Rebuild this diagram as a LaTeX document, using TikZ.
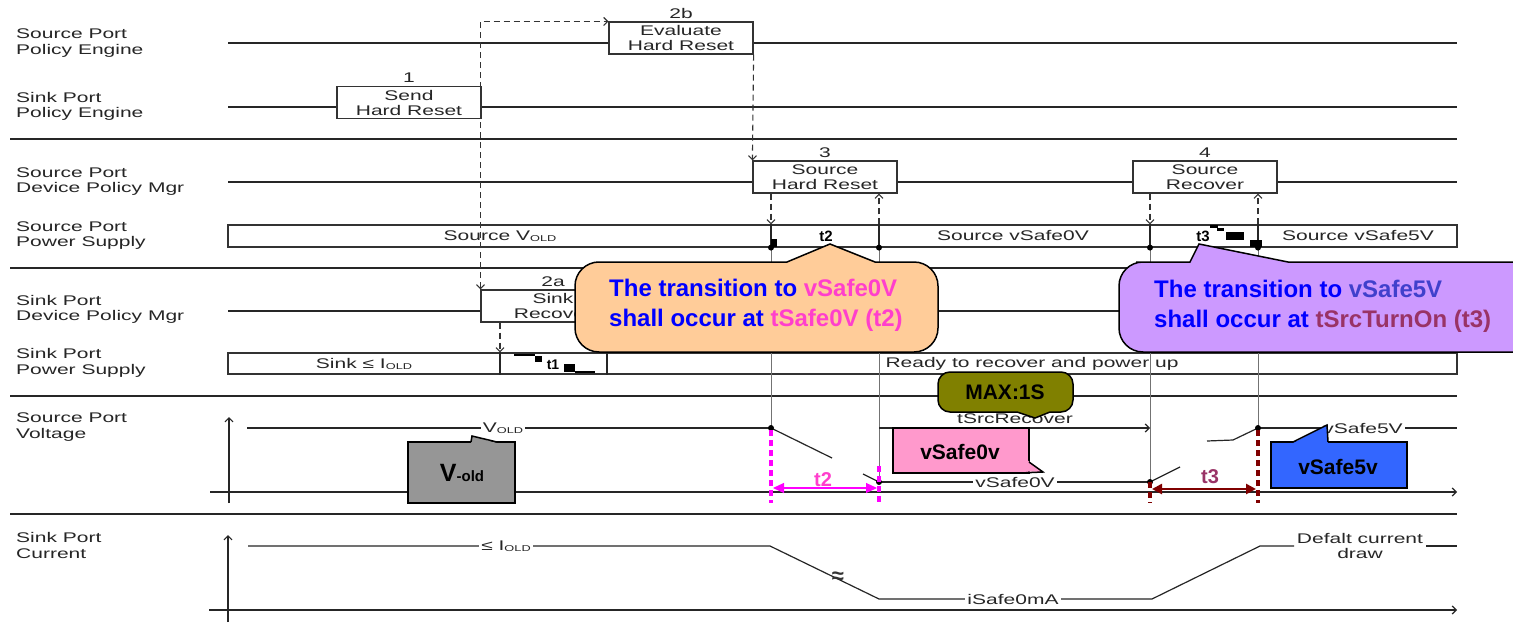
\documentclass[tikz,border=0pt]{standalone}
\usepackage{fontspec}
\setmainfont{Liberation Sans}
\newfontfamily\widefont[FakeStretch=1.5]{Liberation Sans}
\usetikzlibrary{arrows.meta, positioning, calc}
\definecolor{peach}{HTML}{FFCC99}
\definecolor{lilac}{HTML}{CC99FF}
\definecolor{olivebox}{HTML}{808000}
\definecolor{pinkbox}{HTML}{FF99CC}
\definecolor{graybox}{HTML}{969696}
\definecolor{bluebox}{HTML}{3366FF}
\definecolor{hotpink}{HTML}{FF3FCC}
\definecolor{magline}{HTML}{FF00FF}
\definecolor{slateblue}{HTML}{4040CC}
\definecolor{mauve}{HTML}{993366}
\definecolor{darkred}{HTML}{800000}
\newcommand{\lowsub}[1]{\raisebox{-1.5pt}{\fontsize{8.5}{8.5}\selectfont #1}}

\begin{document}
\begin{tikzpicture}[x=1pt, y=-1pt,
  >={Straight Barb[length=4pt,width=8pt]},
  every node/.style={inner sep=0pt},
  lbl/.style={font=\widefont\fontsize{14}{15.5}\selectfont, align=left,
              anchor=west, text=black!85},
  small/.style={font=\widefont\fontsize{14}{15}\selectfont, text=black!85},
  statebox/.style={draw=black!80, fill=white, line width=1.2pt,
                   minimum width=144pt, minimum height=32pt, align=center,
                   font=\widefont\fontsize{14}{15}\selectfont, text=black!85},
  bar/.style={draw=black!80, line width=1.2pt, minimum width=1229pt},
  track/.style={line width=1.2pt, black!85},
  sep/.style={line width=2pt, black!85},
  dashline/.style={dash pattern=on 6pt off 4pt, line width=1.1pt, black!80},
  guide/.style={line width=0.9pt, black!55},
  callout/.style={draw=black, line width=1.5pt},
  bigtext/.style={font=\bfseries\fontsize{24}{30}\selectfont, align=left,
                  anchor=west},
  tagtext/.style={font=\bfseries\fontsize{21}{21}\selectfont}]

  \useasboundingbox (0,0) rectangle (1513,629);
  \fill[white] (0,0) rectangle (1513,629);
  \clip (0,0) rectangle (1513,629);

  %% --- row labels and frame ---
  \foreach \y/\txt [count=\i] in {43/{Source Port\\Policy Engine},
      106.5/{Sink Port\\Policy Engine}, 181.5/{Source Port\\Device Policy Mgr},
      235.5/{Source Port\\Power Supply}, 309.5/{Sink Port\\Device Policy Mgr},
      363/{Sink Port\\Power Supply}, 427/{Source Port\\Voltage},
      545.5/{Sink Port\\Current}}
    \node[lbl] (row\i) at (16,\y) {\txt};
  \foreach \y in {139,268,396,514}
    \draw[sep] (10,\y) -- (1457,\y);
  \foreach \y in {43,107,182,311}
    \draw[track] (228,\y) -- (1457,\y);

  %% --- time marks ---
  \coordinate (sA) at (500,0);
  \coordinate (sB) at (607,0);
  \coordinate (tA) at (771,0);
  \coordinate (tB) at (879,0);
  \coordinate (tC) at (1150,0);
  \coordinate (tD) at (1258,0);

  %% --- state boxes ---
  \node[statebox, label={[small, label distance=3pt]above:1}] (send)
    at (409,102.5) {Send\\Hard Reset};
  \node[statebox, label={[small, label distance=3pt]above:2b}] (evalrst)
    at (681,38) {Evaluate\\Hard Reset};
  \node[statebox, label={[small, label distance=3pt]above:2a}] (sinkrec)
    at (553,306) {Sink\\Recover};
  \node[statebox, label={[small, label distance=3pt]above:3}] (hardrst)
    at (825,177) {Source\\Hard Reset};
  \node[statebox, label={[small, label distance=3pt]above:4}] (recover)
    at (1205,177) {Source\\Recover};

  %% --- power supply bars ---
  \node[bar, minimum height=22pt] (srcps) at (842.5,236) {};
  \node[bar, minimum height=21pt] (sinkps) at (842.5,363.5) {};
  \foreach \t in {tA,tB,tC,tD}
    \draw[track] (srcps.north -| \t) -- (srcps.south -| \t);
  \foreach \t in {sA,sB}
    \draw[track] (sinkps.north -| \t) -- (sinkps.south -| \t);
  \node[small] (psold) at (500,236) {Source V\lowsub{OLD}};
  \node[font=\bfseries\fontsize{15}{15}\selectfont] (pstwo) at (826,236) {t2};
  \node[small] (pszero) at (1013,236) {Source vSafe0V};
  \node[font=\bfseries\fontsize{15}{15}\selectfont] (psthree) at (1203,236) {t3};
  \node[small] (psfive) at (1358,236) {Source vSafe5V};
  \node[small] (skold) at (364,364) {Sink ≤ I\lowsub{OLD}};
  \node[font=\bfseries\fontsize{14}{14}\selectfont] (skone) at (553,365) {t1};
  \node[small] (skready) at (1032,364) {Ready to recover and power up};
  %% stray marks
  \fill (771,239) rectangle (777,247);
  \fill (1210,225) rectangle (1218,228);
  \fill (1217,228) rectangle (1224,231);
  \fill (1226,232) rectangle (1244,240);
  \fill (1250,240) rectangle (1262,247);
  \fill (535,356) rectangle (542,362);
  \draw[line width=1.2pt] (514,355) -- (535,355);
  \fill (564,364) rectangle (575,372);
  \draw[line width=2pt] (575,372) -- (595,372);

  %% --- dashed messages ---
  \draw[dashline, <->] (sinkrec.north west) -- (sinkrec.north west |- evalrst.north west)
    -- (evalrst.north west);
  \draw[dashline, ->] (evalrst.south east) -- (hardrst.north west);
  \draw[dashline, ->] (sinkrec.south -| sA) -- (sinkps.north -| sA);
  \draw[dashline, ->] (hardrst.south -| tA) -- (srcps.north -| tA);
  \draw[dashline, ->] (srcps.north -| tB) -- (hardrst.south -| tB);
  \draw[dashline, ->] (recover.south -| tC) -- (srcps.north -| tC);
  \draw[dashline, ->] (srcps.north -| tD) -- (recover.south -| tD);

  %% --- source port voltage ---
  \coordinate (vA) at (771,428);
  \coordinate (vB) at (879,482);
  \coordinate (vC) at (1150,482);
  \coordinate (vD) at (1258,428);
  \draw[guide] (srcps.south -| tA) -- (vA);
  \draw[guide] (srcps.south -| tB) -- (vB);
  \draw[guide] (srcps.south -| tC) -- (vC);
  \draw[guide] (srcps.south -| tD) -- (vD);
  \draw[track, ->] (229,503) -- (229,417);
  \draw[track, ->] (210,492) -- (1457,492);
  \draw[track] (247,428) -- (vA);
  \draw[track] (vA) -- (832,458);
  \draw[track] (863,474) -- (vB);
  \draw[track] (vB) -- (vC);
  \draw[track] (vC) -- (1180,467);
  \draw[track] (1207,441) -- (1233,440) -- (vD);
  \draw[track] (vD) -- (1457,428);
  \draw[track, ->] (vB |- vA) -- (vC |- vA);
  \node[small, fill=white, inner xsep=2pt] (vold) at (503,428) {V\lowsub{OLD}};
  \node[small, fill=white, inner xsep=2pt] (vzero) at (1015,482) {vSafe0V};
  \node[small, fill=white, inner xsep=2pt] (vfive) at (1363,428) {vSafe5V};
  \node[small] (srcrec) at (1015,419) {tSrcRecover};
  \foreach \p in {vA,vB,vC,vD}
    \fill (\p) circle (3pt);
  \foreach \t in {tA,tB,tC,tD}
    \fill (srcps.south -| \t) circle (3pt);
  %% timing markers
  \draw[magline, line width=4.5pt, dash pattern=on 6pt off 4pt] (771,430) -- (771,503);
  \draw[magline, line width=4.5pt, dash pattern=on 6pt off 4pt] (879,466) -- (879,503);
  \draw[darkred, line width=4.5pt, dash pattern=on 6pt off 4pt] (1150,482) -- (1150,503);
  \draw[darkred, line width=4.5pt, dash pattern=on 6pt off 4pt] (1258,430) -- (1258,503);
  \draw[magline, line width=1.2pt, {Triangle[length=11pt,width=10pt]}-{Triangle[length=11pt,width=10pt]}]
    (773,488) -- (877,488);
  \node[font=\bfseries\fontsize{20}{20}\selectfont, text=hotpink] (ttwo) at (823,480) {t2};
  \draw[darkred, line width=2.5pt, {Triangle[length=10pt,width=10pt]}-{Triangle[length=10pt,width=10pt]}]
    (1152,489) -- (1256,489);
  \node[font=\bfseries\fontsize{20}{20}\selectfont, text=mauve] (tthree) at (1210,477) {t3};

  %% --- sink port current ---
  \draw[track, ->] (228,622) -- (228,535);
  \draw[track, ->] (209,610) -- (1457,610);
  \draw[track] (248,546) -- (770,546) -- (879,599) -- (1152,599) -- (1260,546) -- (1294,546);
  \draw[track] (1426,546) -- (1457,546);
  \node[small, fill=white, inner xsep=2pt] (iold) at (506,546) {≤ I\lowsub{OLD}};
  \node[small, fill=white, inner xsep=2pt] (izero) at (1013,599) {iSafe0mA};
  \node[small, align=center] (idef) at (1360,546) {Defalt current\\draw};
  \node[font=\bfseries\fontsize{22}{22}\selectfont, text=black!80] (ibreak) at (838,578) {≈};

  %% --- callouts ---
  \draw[callout, fill=peach] (830,244) -- (875,262) [rounded corners=24pt]
    -- (938,262) -- (938,352) -- (575,352) -- (575,262) -- (620,262)
    [sharp corners] -- (787,262) -- cycle;
  \node[bigtext] (noteA) at (609,305)
    {{\color{blue}The transition to} {\color{hotpink}vSafe0V}\\
     {\color{blue}shall occur at} {\color{hotpink}tSafe0V (t2)}};
  \draw[callout, fill=lilac] (1199,244) -- (1288,262) [rounded corners=24pt]
    -- (1540,262) -- (1540,352) -- (1119,352) -- (1119,262) -- (1160,262)
    [sharp corners] -- (1190,262) -- cycle;
  \node[bigtext] (noteB) at (1154,306)
    {{\color{blue}The transition to} {\color{slateblue}vSafe5V}\\
     {\color{blue}shall occur at} {\color{mauve}tSrcTurnOn (t3)}};
  \draw[callout, fill=olivebox] (1017,412) -- (1035,418) -- (1050,412)
    [rounded corners=12pt] -- (1073,412) -- (1073,372) -- (938,372) -- (938,412)
    -- (990,412) [sharp corners] -- cycle;
  \node[tagtext] (maxone) at (1005,392) {MAX:1S};
  \draw[callout, fill=pinkbox] (893,428) rectangle (1029,473);
  \fill[pinkbox] (1027,460) -- (1043,472) -- (1020,471.2) -- cycle;
  \draw[callout] (1029,462) -- (1043,472) -- (1020,473);
  \node[tagtext] (pzero) at (960,452) {vSafe0v};
  \draw[callout, fill=graybox] (408,442) rectangle (515,503);
  \fill[graybox] (471,443) -- (472,436) -- (497,443) -- cycle;
  \draw[callout] (471,442) -- (472,436) -- (497,442);
  \node[font=\bfseries] (pold) at (462,473)
    {{\fontsize{25}{25}\selectfont V}{\fontsize{15}{15}\selectfont -old}};
  \draw[callout, fill=bluebox] (1271,442) rectangle (1407,488);
  \fill[bluebox] (1293,443) -- (1327,425) -- (1328,443) -- cycle;
  \draw[callout] (1293,442) -- (1327,425) -- (1328,442);
  \node[tagtext] (pfive) at (1338,467) {vSafe5v};
\end{tikzpicture}
\end{document}
